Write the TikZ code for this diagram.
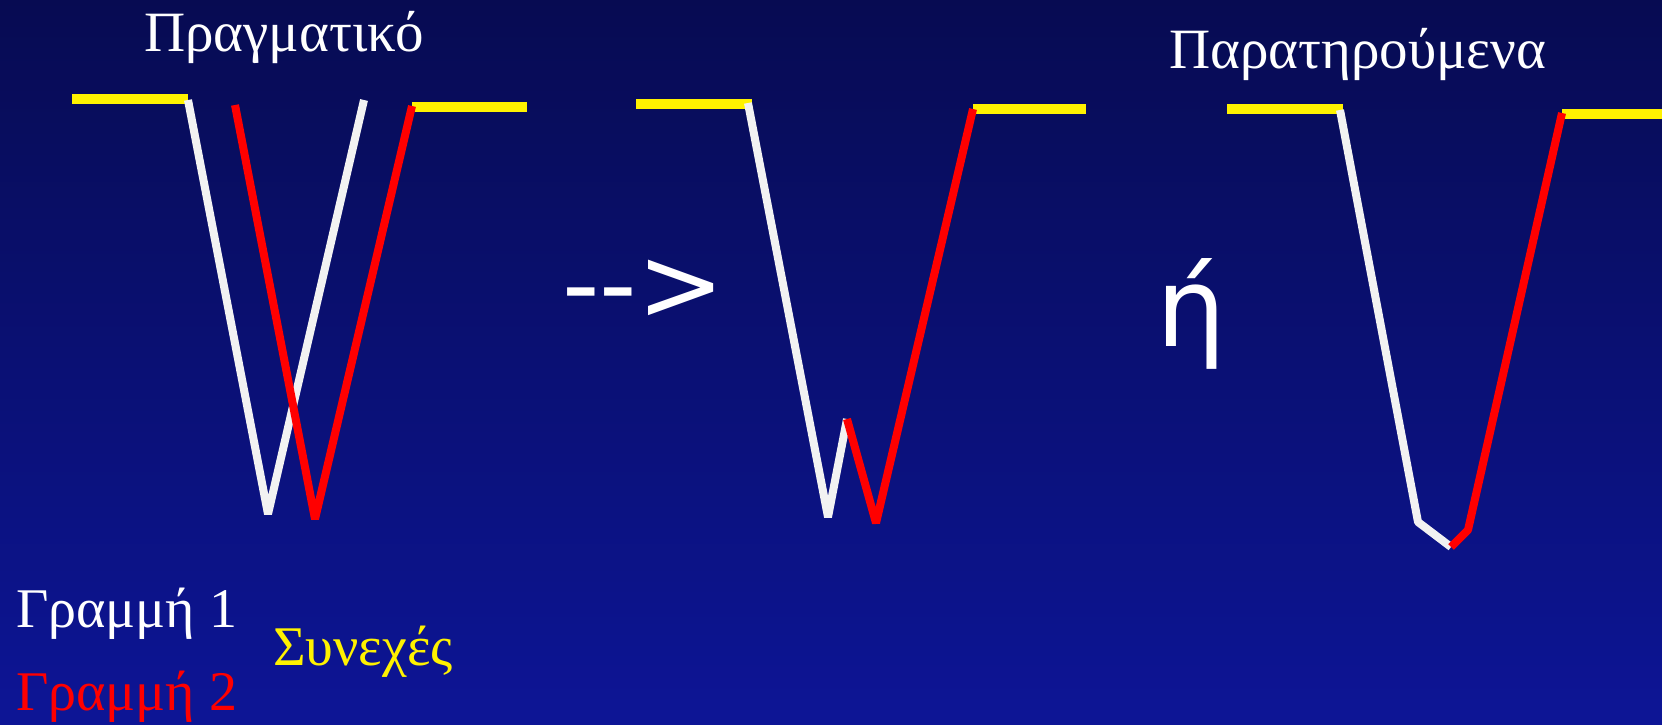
\documentclass[tikz,border=0pt]{standalone}
\usepackage{fontspec}
\setmainfont{Liberation Serif}
\newfontfamily\signfont[Ligatures=NoCommon]{DejaVu Sans}
\usetikzlibrary{positioning}
\definecolor{navytop}{RGB}{7,11,82}
\definecolor{navybot}{RGB}{13,21,150}
\definecolor{offwhite}{RGB}{242,242,242}
\tikzset{
  wline/.style={draw=offwhite, line width=8pt, line join=bevel},
  rline/.style={draw=red, line width=8pt, line join=bevel},
  yline/.style={draw=yellow, line width=10pt},
  title/.style={text=white, font=\fontsize{57}{64}\selectfont,
                inner sep=0pt, anchor=base west},
  legend/.style={font=\fontsize{56}{62}\selectfont,
                 inner sep=0pt, anchor=base west},
  sign/.style={text=white, font=\signfont\fontsize{104}{110}\selectfont,
               inner sep=0pt, anchor=base west},
}

\begin{document}
\begin{tikzpicture}[x=1pt, y=-1pt]
    \shade[top color=navytop, bottom color=navybot] (0,0) rectangle (1662,725);
    \useasboundingbox (0,0) rectangle (1662,725);
    % titles
    \node[title] (real) at (144,52) {Πραγματικό};
    \node[title] (seen) at (1169,69) {Παρατηρούμενα};
    % first V: both lines
    \coordinate (a1) at (188,100); \coordinate (a2) at (268,514); \coordinate (a3) at (364,100);
    \coordinate (b1) at (235,105); \coordinate (b2) at (315,519); \coordinate (b3) at (412,106);
    \draw[yline] (72,99) -- (188,99);
    \draw[yline] (412,107) -- (527,107);
    \draw[wline] (a1) -- (a2) -- (a3);
    \draw[rline] (b1) -- (b2) -- (b3);
    % arrow and "or"
    \node[sign] (arrow) at (562,320) {-{}-{}>};
    \node[sign, font=\signfont\fontsize{110}{116}\selectfont] (or) at (1156,346) {ή};
    % second V: merged
    \coordinate (c1) at (748,103); \coordinate (c2) at (828,517); \coordinate (c3) at (847,419);
    \coordinate (c4) at (876,523); \coordinate (c5) at (973,109);
    \draw[yline] (636,104) -- (752,104);
    \draw[yline] (973,109) -- (1086,109);
    \draw[wline] (c1) -- (c2) -- (c3);
    \draw[rline] (c3) -- (c4) -- (c5);
    % third V: blurred
    \coordinate (d1) at (1340,110); \coordinate (d2) at (1418,522); \coordinate (d3) at (1451,547);
    \coordinate (d4) at (1468,530); \coordinate (d5) at (1562,113);
    \draw[yline] (1227,109) -- (1343,109);
    \draw[yline] (1562,114) -- (1662,114);
    \draw[wline] (d1) -- (d2) -- (d3);
    \draw[rline] (d3) -- (d4) -- (d5);
    % legend
    \node[legend, text=white] (line1) at (16,627) {Γραμμή 1};
    \node[legend, text=red] (line2) at (16,710) {Γραμμή 2};
    \node[legend, text=yellow] (cont) at (273,665) {Συνεχές};
\end{tikzpicture}
\end{document}
